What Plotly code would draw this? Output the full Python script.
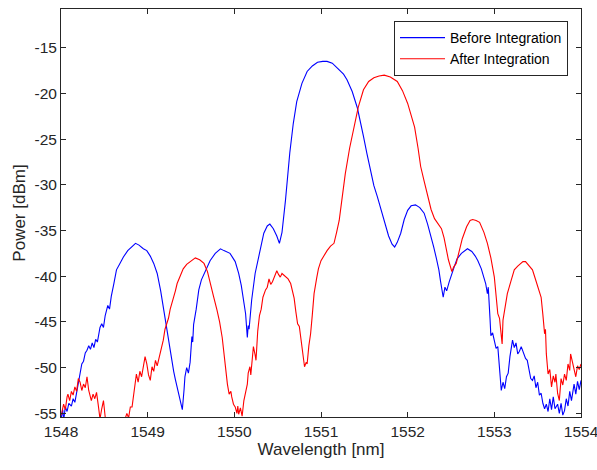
import plotly.graph_objects as go

# Before Integration (blue)
before_wl = [1548.00,1548.02,1548.03,1548.05,1548.07,1548.09,1548.12,1548.14,1548.16,1548.18,1548.20,1548.22,1548.24,1548.26,1548.28,1548.30,1548.32,1548.34,1548.36,1548.38,1548.40,1548.42,1548.45,1548.47,1548.49,1548.51,1548.54,1548.56,1548.58,1548.61,1548.64,1548.68,1548.72,1548.77,1548.82,1548.86,1548.90,1548.95,1548.99,1549.03,1549.07,1549.11,1549.15,1549.18,1549.20,1549.23,1549.26,1549.28,1549.30,1549.32,1549.34,1549.37,1549.40,1549.42,1549.43,1549.45,1549.47,1549.49,1549.51,1549.52,1549.53,1549.56,1549.59,1549.62,1549.67,1549.72,1549.78,1549.84,1549.88,1549.95,1550.01,1550.05,1550.08,1550.10,1550.13,1550.15,1550.16,1550.17,1550.19,1550.20,1550.24,1550.28,1550.31,1550.34,1550.38,1550.41,1550.45,1550.49,1550.52,1550.55,1550.59,1550.61,1550.64,1550.68,1550.72,1550.78,1550.84,1550.90,1550.96,1551.02,1551.07,1551.13,1551.20,1551.26,1551.30,1551.36,1551.42,1551.46,1551.49,1551.53,1551.57,1551.61,1551.65,1551.70,1551.74,1551.78,1551.82,1551.85,1551.88,1551.92,1551.96,1552.00,1552.04,1552.09,1552.14,1552.19,1552.23,1552.27,1552.30,1552.33,1552.36,1552.38,1552.41,1552.43,1552.45,1552.48,1552.50,1552.54,1552.57,1552.62,1552.69,1552.74,1552.78,1552.81,1552.85,1552.88,1552.90,1552.92,1552.93,1552.95,1552.96,1552.98,1553.00,1553.02,1553.04,1553.06,1553.08,1553.10,1553.12,1553.14,1553.16,1553.18,1553.21,1553.23,1553.25,1553.27,1553.29,1553.31,1553.34,1553.36,1553.38,1553.40,1553.42,1553.44,1553.46,1553.48,1553.50,1553.52,1553.54,1553.56,1553.58,1553.60,1553.62,1553.64,1553.66,1553.68,1553.70,1553.73,1553.75,1553.77,1553.79,1553.81,1553.83,1553.85,1553.87,1553.89,1553.92,1553.94,1553.96,1553.98,1554.00]
before_pw = [-55.6,-54.6,-55.8,-54.3,-54.8,-53.9,-54.2,-53.4,-53.8,-52.8,-51.8,-50.7,-49.6,-49.3,-48.4,-48.1,-47.6,-48.0,-47.3,-47.8,-46.9,-47.2,-45.6,-45.2,-45.6,-44.3,-43.2,-43.6,-42.2,-40.8,-39.3,-38.6,-37.9,-37.2,-36.7,-36.4,-36.6,-37.0,-37.2,-37.8,-38.6,-39.7,-41.6,-43.4,-44.5,-46.4,-48.5,-49.6,-50.4,-51.3,-52.1,-53.3,-54.6,-52.4,-51.0,-50.0,-50.6,-49.4,-46.6,-47.2,-45.3,-43.6,-41.5,-40.4,-39.3,-38.3,-37.5,-37.0,-37.2,-37.5,-38.4,-39.7,-41.0,-42.3,-44.1,-46.7,-45.4,-45.8,-43.6,-42.6,-39.7,-37.9,-36.4,-35.3,-34.5,-34.3,-34.8,-35.6,-36.4,-35.2,-31.7,-29.5,-26.5,-23.3,-20.9,-18.9,-17.6,-17.0,-16.6,-16.5,-16.5,-16.7,-17.3,-17.9,-18.5,-19.8,-21.6,-23.2,-24.7,-26.6,-28.4,-30.1,-31.3,-32.9,-34.3,-35.6,-36.5,-36.8,-36.3,-35.3,-33.8,-32.8,-32.3,-32.2,-32.5,-33.1,-34.3,-35.6,-36.8,-38.0,-39.3,-40.6,-42.3,-41.2,-41.6,-40.6,-40.1,-38.9,-38.1,-37.5,-37.0,-37.3,-37.8,-38.3,-39.2,-40.1,-40.8,-41.9,-41.2,-44.6,-46.5,-46.2,-47.0,-47.9,-47.7,-49.8,-52.5,-51.6,-52.3,-51.0,-50.6,-48.8,-47.0,-47.8,-47.3,-48.5,-48.2,-47.7,-48.6,-49.0,-49.2,-50.3,-51.2,-51.4,-50.9,-52.2,-51.6,-53.0,-52.8,-53.9,-54.5,-54.0,-54.8,-53.4,-54.6,-53.2,-54.5,-54.0,-55.0,-53.9,-55.2,-54.7,-53.4,-54.2,-52.6,-53.6,-51.8,-52.9,-51.5,-52.4,-51.4]

# After Integration (red)
after_wl = [1548.00,1548.01,1548.03,1548.05,1548.07,1548.08,1548.10,1548.12,1548.14,1548.16,1548.18,1548.20,1548.22,1548.24,1548.26,1548.28,1548.30,1548.32,1548.35,1548.37,1548.39,1548.41,1548.43,1548.45,1548.47,1548.49,1548.51,1548.53,1548.60,1548.70,1548.74,1548.76,1548.78,1548.80,1548.82,1548.84,1548.86,1548.87,1548.89,1548.91,1548.93,1548.95,1548.97,1548.99,1549.01,1549.03,1549.05,1549.07,1549.09,1549.11,1549.14,1549.16,1549.18,1549.20,1549.22,1549.24,1549.26,1549.28,1549.30,1549.32,1549.34,1549.38,1549.41,1549.45,1549.50,1549.55,1549.60,1549.65,1549.69,1549.72,1549.76,1549.80,1549.83,1549.86,1549.88,1549.90,1549.92,1549.94,1549.96,1549.97,1549.99,1550.01,1550.03,1550.04,1550.05,1550.07,1550.09,1550.11,1550.13,1550.15,1550.16,1550.18,1550.19,1550.21,1550.22,1550.24,1550.25,1550.27,1550.29,1550.31,1550.33,1550.36,1550.38,1550.40,1550.42,1550.44,1550.47,1550.49,1550.51,1550.53,1550.55,1550.59,1550.62,1550.65,1550.67,1550.69,1550.71,1550.73,1550.75,1550.77,1550.79,1550.81,1550.83,1550.84,1550.86,1550.88,1550.90,1550.92,1550.95,1550.97,1551.00,1551.04,1551.07,1551.11,1551.15,1551.18,1551.21,1551.24,1551.28,1551.33,1551.38,1551.43,1551.49,1551.55,1551.61,1551.67,1551.73,1551.80,1551.88,1551.94,1552.00,1552.04,1552.08,1552.12,1552.15,1552.19,1552.23,1552.27,1552.31,1552.35,1552.39,1552.42,1552.44,1552.47,1552.51,1552.53,1552.56,1552.60,1552.63,1552.68,1552.72,1552.75,1552.79,1552.83,1552.88,1552.92,1552.96,1553.00,1553.02,1553.04,1553.06,1553.08,1553.09,1553.10,1553.12,1553.15,1553.19,1553.23,1553.27,1553.30,1553.33,1553.36,1553.40,1553.44,1553.47,1553.50,1553.54,1553.56,1553.58,1553.59,1553.60,1553.62,1553.64,1553.66,1553.68,1553.70,1553.71,1553.73,1553.75,1553.77,1553.79,1553.81,1553.83,1553.85,1553.87,1553.88,1553.90,1553.92,1553.94,1553.96,1553.98,1554.00]
after_pw = [-55.2,-54.9,-54.0,-54.6,-53.2,-52.9,-53.6,-52.6,-53.0,-52.1,-52.6,-51.2,-51.6,-52.5,-51.8,-52.2,-51.0,-52.5,-53.6,-52.9,-53.4,-52.7,-54.1,-55.6,-54.5,-53.6,-55.4,-56.5,-57.0,-56.5,-55.6,-55.0,-55.5,-54.3,-54.3,-53.0,-51.5,-50.7,-51.6,-50.4,-51.0,-49.8,-48.8,-49.6,-50.8,-51.4,-49.9,-50.4,-49.2,-49.8,-48.5,-48.0,-47.0,-45.8,-45.2,-44.6,-43.6,-43.0,-42.3,-41.6,-40.8,-39.8,-39.2,-38.7,-38.3,-38.0,-38.2,-38.6,-39.5,-40.8,-42.2,-43.7,-45.0,-46.7,-48.4,-50.3,-51.8,-52.9,-52.6,-53.2,-54.0,-54.3,-55.0,-54.2,-55.1,-54.4,-55.3,-53.6,-52.5,-51.8,-50.6,-49.9,-50.8,-48.2,-47.7,-48.6,-49.2,-46.0,-44.3,-43.6,-42.3,-41.5,-41.2,-40.3,-40.9,-40.6,-39.8,-39.4,-39.8,-40.1,-39.7,-40.1,-40.3,-40.8,-41.6,-42.4,-43.9,-45.2,-45.5,-47.0,-48.6,-49.9,-49.4,-49.6,-47.6,-46.3,-44.2,-41.9,-40.2,-39.2,-38.3,-37.6,-37.2,-36.7,-36.4,-35.2,-33.9,-31.7,-28.8,-26.0,-23.7,-21.5,-19.6,-18.7,-18.3,-18.1,-18.0,-18.2,-18.7,-19.7,-21.1,-22.3,-23.7,-26.0,-28.0,-29.6,-31.3,-32.7,-33.7,-34.2,-34.8,-35.8,-36.8,-38.2,-39.5,-39.0,-38.6,-36.9,-35.9,-34.6,-33.9,-33.8,-33.9,-34.1,-35.2,-36.4,-38.0,-40.1,-42.0,-44.1,-44.6,-46.2,-47.4,-44.8,-43.5,-41.9,-40.6,-39.3,-38.9,-38.7,-38.4,-38.4,-38.8,-39.3,-40.2,-41.2,-42.3,-44.2,-46.3,-45.8,-48.5,-50.7,-50.2,-52.1,-50.9,-51.6,-50.7,-52.8,-53.6,-51.2,-51.9,-50.7,-51.4,-49.6,-50.3,-48.5,-49.4,-50.4,-51.0,-49.8,-50.2,-49.6]

x_ticks = [1548, 1549, 1550, 1551, 1552, 1553, 1554]
y_ticks = [-55, -50, -45, -40, -35, -30, -25, -20, -15]

AX = "#262626"
FONT = "Liberation Sans, Arial, sans-serif"

fig = go.Figure()
fig.add_trace(go.Scatter(x=before_wl, y=before_pw, mode="lines", name="Before Integration",
                         line=dict(color="#0000FF", width=1.1)))
fig.add_trace(go.Scatter(x=after_wl, y=after_pw, mode="lines", name="After Integration",
                         line=dict(color="#FF0000", width=1.1)))

fig.update_layout(
    width=597, height=470, autosize=False,
    margin=dict(l=61, r=16, t=9, b=53, autoexpand=False),
    paper_bgcolor="white", plot_bgcolor="white",
    font=dict(family=FONT, size=15.5, color=AX),
    showlegend=True,
    legend=dict(x=0.975, xanchor="right", y=0.9706, yanchor="top",
                bgcolor="white", bordercolor=AX, borderwidth=1,
                font=dict(size=14, color="black"),
                tracegroupgap=0, itemwidth=45),
)
fig.update_xaxes(range=[1548, 1554], tickvals=x_ticks, ticktext=[str(t) for t in x_ticks],
                 ticks="inside", ticklen=5, tickcolor=AX, showline=True, linecolor=AX, linewidth=1,
                 mirror="ticks", showgrid=False, zeroline=False, ticklabeloverflow="allow",
                 automargin=False,
                 title=dict(text="Wavelength [nm]", font=dict(size=17), standoff=4),
                 tickfont=dict(size=15.5))
fig.update_yaxes(range=[-55.4, -10.77], tickvals=y_ticks, ticktext=[str(t) for t in y_ticks],
                 ticks="inside", ticklen=5, tickcolor=AX, showline=True, linecolor=AX, linewidth=1,
                 mirror="ticks", showgrid=False, zeroline=False, ticklabeloverflow="allow",
                 automargin=False,
                 title=dict(text="Power [dBm]", font=dict(size=17), standoff=4),
                 tickfont=dict(size=15.5))

# remove the browser's default 8px body margin so the figure fills the window exactly
fig.write_html("out.html",
               config={"responsive": False, "displayModeBar": False},
               post_script="document.body.style.margin='0';")
